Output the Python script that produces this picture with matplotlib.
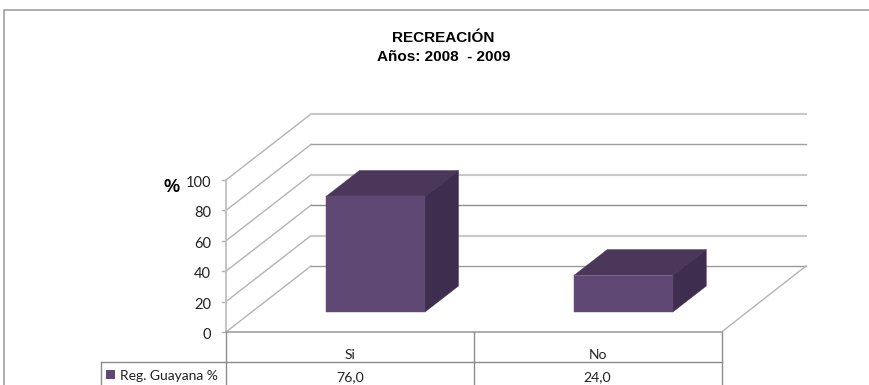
import matplotlib
matplotlib.use("Agg")
import matplotlib.pyplot as plt
from matplotlib.patches import Polygon, Rectangle

categories = ["Si", "No"]
values = [76.0, 24.0]
value_labels = ["76,0", "24,0"]
y_ticks = [0, 20, 40, 60, 80, 100]
series_name = "Reg. Guayana %"

# the picture is an oblique 3D view, so work in pixels of the figure
x0, y0 = 226, 332
y_scale = 1.52      # px per 1 %
wall_dx, wall_dy = 85, -66
cat_w = 247.8
bar_w = 99
bar_off = 100       # bar start inside its category
bar_dx, bar_dy = 33.5, -26
bar_base = 312

front = "#5f4874"
side = "#3f2d50"
top = "#4a3759"
grid_c = ["#9a9a9a", "#c8c8c8", "#8f8f8f", "#c8c8c8", "#a0a0a0", "#c8c8c8"]
line_c = "#b4b4b4"
table_c = "#8c8c8c"

fig = plt.figure(figsize=(8.7, 3.85), dpi=100)
ax = fig.add_axes([0, 0, 1, 1])
ax.set_xlim(0, 870)
ax.set_ylim(385, 0)
ax.axis("off")

# outer frame of the chart
ax.plot([4.5, 4.5, 870], [385, 9.5, 9.5], color="#a0a0a0", lw=1.2)

# title
ax.text(443.5, 38, "RECREACIÓN", ha="center", va="center", fontsize=11,
        fontweight="bold", family="Liberation Sans")
ax.text(443.5, 57, "Años: 2008  - 2009", ha="center", va="center", fontsize=11,
        fontweight="bold", family="Liberation Sans")

# walls and gridlines
for i, t in enumerate(y_ticks):
    y = y0 - t * y_scale
    ax.plot([x0, x0 + wall_dx], [y, y + wall_dy], color=line_c, lw=1)
    ax.plot([x0 + wall_dx, 806], [y + wall_dy, y + wall_dy],
            color=grid_c[i], lw=1.5 if i % 2 else 1.0)
    ax.plot([x0 - 4, x0], [y, y], color=line_c, lw=1)
    ax.text(x0 - 15, y + 3, str(t), ha="right", va="center", fontsize=10.5,
            family="Lato", color="#222222")
ax.plot([x0, x0], [y0, y0 - 100 * y_scale], color="#c0c0c0", lw=1.3)

# floor
ax.plot([x0, x0 + 2 * cat_w], [y0, y0], color="#a0a0a0", lw=1.2)
ax.plot([x0 + 2 * cat_w, 806], [y0, y0 + wall_dy], color=line_c, lw=1)

ax.text(172, 188, "%", ha="center", va="center", fontsize=13,
        fontweight="bold", family="Liberation Sans")

# bars
for i, v in enumerate(values):
    left = x0 + cat_w * i + bar_off
    right = left + bar_w
    h = v * y_scale
    ytop = bar_base - h
    ax.add_patch(Polygon([(left, ytop), (right, ytop), (right + bar_dx, ytop + bar_dy),
                          (left + bar_dx, ytop + bar_dy)], fc=top, ec=top, lw=0.3, zorder=3))
    ax.add_patch(Polygon([(right, ytop), (right + bar_dx, ytop + bar_dy),
                          (right + bar_dx, bar_base + bar_dy), (right, bar_base)],
                         fc=side, ec=side, lw=0.3, zorder=3))
    ax.add_patch(Rectangle((left, ytop), bar_w, h, fc=front, ec=front, lw=0.3, zorder=4))

# data table
row_y = 362
for i in range(3):
    x = x0 + cat_w * i
    ax.plot([x, x], [y0, 385], color=table_c, lw=1)
ax.plot([101, x0 + 2 * cat_w], [row_y, row_y], color=table_c, lw=1)
ax.plot([101.5, 101.5], [row_y, 385], color=table_c, lw=1)
for i, c in enumerate(categories):
    xc = x0 + cat_w * (i + 0.5)
    ax.text(xc, 355, c, ha="center", va="center", fontsize=10, family="Lato", color="#222222")
    ax.text(xc, 377.5, value_labels[i], ha="center", va="center", fontsize=10.2,
            family="Lato", color="#222222")
ax.add_patch(Rectangle((106, 370), 9, 9, fc=front, ec="none"))
ax.text(120, 376, series_name, ha="left", va="center", fontsize=10, family="Lato",
        color="#222222")

fig.savefig("out.png", dpi=100)
